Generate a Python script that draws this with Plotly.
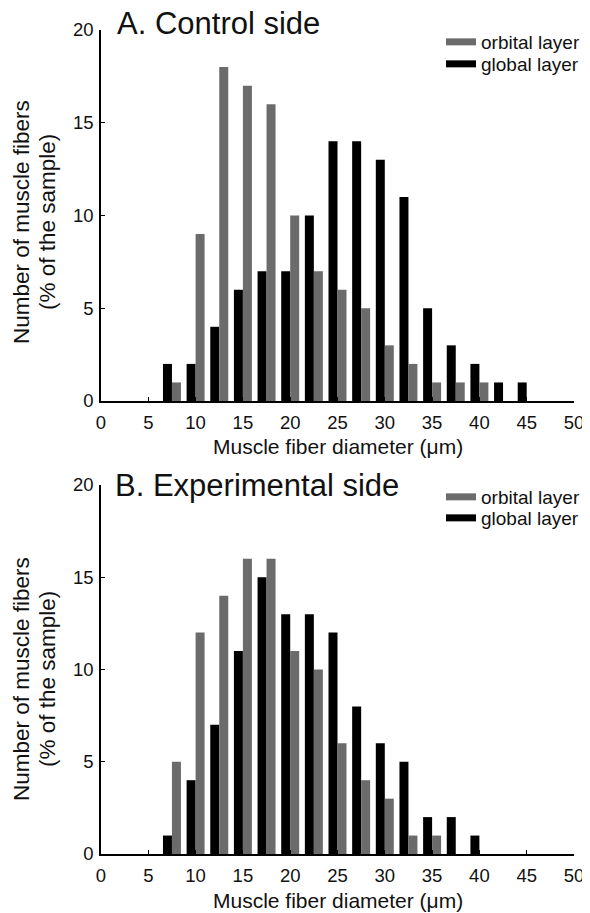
import plotly.graph_objects as go

# ---- data ----
bins = [7.5, 10, 12.5, 15, 17.5, 20, 22.5, 25, 27.5, 30, 32.5, 35, 37.5, 40, 42.5, 45]

control_global = [2, 2, 4, 6, 7, 7, 10, 14, 14, 13, 11, 5, 3, 2, 1, 1]
control_orbital = [1, 9, 18, 17, 16, 10, 7, 6, 5, 3, 2, 1, 1, 1, 0, 0]

exp_global = [1, 4, 7, 11, 15, 13, 13, 12, 8, 6, 5, 2, 2, 1, 0, 0]
exp_orbital = [5, 12, 14, 16, 16, 11, 10, 6, 4, 3, 1, 1, 0, 0, 0, 0]

x_ticks = [0, 5, 10, 15, 20, 25, 30, 35, 40, 45, 50]
y_ticks = [0, 5, 10, 15, 20]

panel_titles = ["A. Control side", "B. Experimental side"]
series_names = ["orbital layer", "global layer"]
x_title = "Muscle fiber diameter (μm)"
y_title_lines = ["Number of muscle fibers", "(% of the sample)"]

GREY = "#6b6b6b"
BLACK = "#000000"
FONT = "Liberation Sans, Arial, Helvetica, sans-serif"

# page has an 8px body margin: figure is placed at (8, 8) in the 590x913 window
OFF = 8
W, H = 590 - OFF, 913 - OFF


def px(x):
    """page x pixel -> paper fraction"""
    return (x - OFF) / W


def py(y):
    """page y pixel -> paper fraction"""
    return 1 - (y - OFF) / H


fig = go.Figure()

panels = [
    dict(g=control_global, o=control_orbital, xa="x", ya="y", legs=("legend", "legend2")),
    dict(g=exp_global, o=exp_orbital, xa="x2", ya="y2", legs=("legend3", "legend4")),
]

for p in panels:
    fig.add_trace(go.Bar(x=bins, y=p["g"], marker=dict(color=BLACK, line=dict(width=0)),
                         xaxis=p["xa"], yaxis=p["ya"], showlegend=False, name=series_names[1]))
    fig.add_trace(go.Bar(x=bins, y=p["o"], marker=dict(color=GREY, line=dict(width=0)),
                         xaxis=p["xa"], yaxis=p["ya"], showlegend=False, name=series_names[0]))
    # legend entries
    fig.add_trace(go.Scatter(x=[None], y=[None], mode="lines", line=dict(color=GREY, width=7),
                             name=series_names[0], xaxis=p["xa"], yaxis=p["ya"], legend=p["legs"][0]))
    fig.add_trace(go.Scatter(x=[None], y=[None], mode="lines", line=dict(color=BLACK, width=7),
                             name=series_names[1], xaxis=p["xa"], yaxis=p["ya"], legend=p["legs"][1]))

axis_common = dict(
    ticks="inside", ticklen=4, tickwidth=1.2, tickcolor="black",
    showline=True, linecolor="black", linewidth=1.5,
    showgrid=False, zeroline=False, automargin=False,
    tickfont=dict(family=FONT, size=18.5, color="#111"),
)

xdom = [px(101), px(574)]
fig.update_layout(
    xaxis=dict(domain=xdom, range=[0, 50], tickvals=x_ticks, anchor="y", ticklabelstandoff=4, **axis_common),
    yaxis=dict(domain=[py(401), py(30)], range=[0, 20], tickvals=y_ticks, anchor="x", ticklabelstandoff=2, **axis_common),
    xaxis2=dict(domain=xdom, range=[0, 50], tickvals=x_ticks, anchor="y2", ticklabelstandoff=4, **axis_common),
    yaxis2=dict(domain=[py(854), py(485)], range=[0, 20], tickvals=y_ticks, anchor="x2", ticklabelstandoff=2, **axis_common),
)

leg_common = dict(font=dict(family=FONT, size=19, color="#111"), bgcolor="rgba(0,0,0,0)",
                  xanchor="left", yanchor="middle", borderwidth=0)
fig.update_layout(
    legend=dict(x=px(441), y=py(42), **leg_common),
    legend2=dict(x=px(441), y=py(64), **leg_common),
    legend3=dict(x=px(441), y=py(497), **leg_common),
    legend4=dict(x=px(441), y=py(518), **leg_common),
)

annotations = []
# panel titles
for title, (tx, ty) in zip(panel_titles, [(115, 24), (113, 485)]):
    annotations.append(dict(text=title, x=px(tx), y=py(ty), xref="paper", yref="paper",
                            xanchor="left", yanchor="middle", showarrow=False,
                            font=dict(family=FONT, size=31, color="#111")))
# x-axis titles
for ty in [446, 900]:
    annotations.append(dict(text=x_title, x=px(337.5), y=py(ty), xref="paper", yref="paper",
                            xanchor="center", yanchor="middle", showarrow=False,
                            font=dict(family=FONT, size=21, color="#111")))
# y-axis titles (two lines each)
for ty in [222, 679]:
    for line, lx in zip(y_title_lines, [21, 47]):
        annotations.append(dict(text=line, x=px(lx), y=py(ty), xref="paper", yref="paper",
                                xanchor="center", yanchor="middle", showarrow=False, textangle=-90,
                                font=dict(family=FONT, size=22.5, color="#111")))

fig.update_layout(
    annotations=annotations,
    width=W, height=H,
    margin=dict(l=0, r=0, t=0, b=0, pad=0, autoexpand=False),
    barmode="group", bargap=0.24, bargroupgap=0,
    plot_bgcolor="white", paper_bgcolor="white",
    font=dict(family=FONT, color="#111"),
)

fig.write_html("out.html")
